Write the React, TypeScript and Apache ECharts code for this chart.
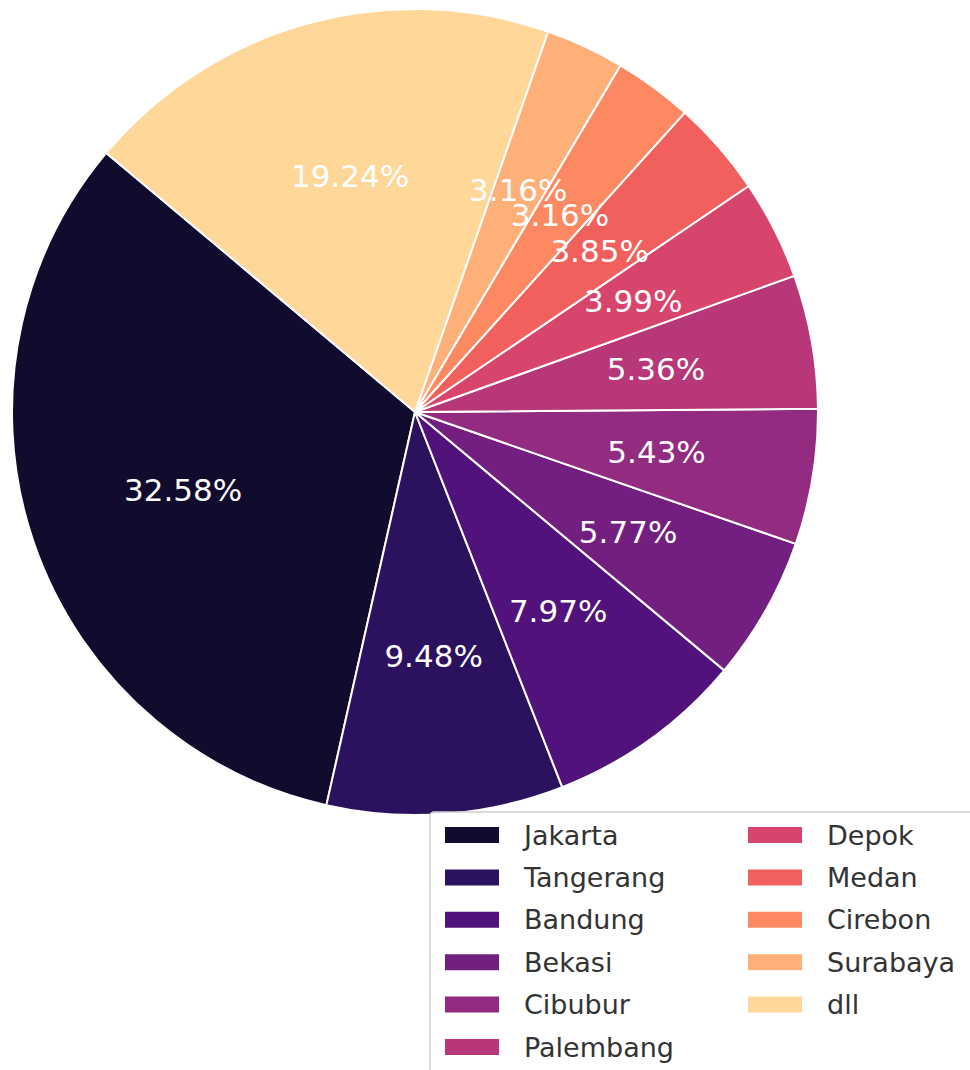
import React, { useEffect, useRef } from "react";
import * as echarts from "echarts";

const categories = ["Jakarta", "Tangerang", "Bandung", "Bekasi", "Cibubur", "Palembang", "Depok", "Medan", "Cirebon", "Surabaya", "dll"];
const values = [32.58, 9.48, 7.97, 5.77, 5.43, 5.36, 3.99, 3.85, 3.16, 3.16, 19.24];
const colors = ["#110b2e", "#2c115f", "#51127c", "#721f81", "#932b80", "#b73779", "#d8456c", "#f1605d", "#fc8961", "#feb078", "#fed799"];
const legendCol1 = categories.slice(0, 6);
const legendCol2 = categories.slice(6);

export default function App() {
  const ref = useRef<HTMLDivElement>(null);
  useEffect(() => {
    if (!ref.current) return;
    const chart = echarts.init(ref.current, null, { renderer: "svg" });
    const cx = 415, cy = 412, R = 403;
    const start = 140;
    const data = categories.map((n, i) => ({ name: n, value: values[i], itemStyle: { color: colors[i] } }));
    const legendBase = {
      orient: "vertical",
      icon: "rect",
      padding: 0,
      itemWidth: 56,
      itemHeight: 18,
      itemGap: 15.4,
      height: 248,
      selectedMode: false,
      textStyle: {
        fontFamily: "DejaVu Sans",
        fontSize: 27,
        lineHeight: 27,
        color: "#333333",
        padding: [0, 0, 0, 19],
      },
    };
    chart.setOption({
      animation: false,
      backgroundColor: "#ffffff",
      graphic: [
        {
          type: "rect",
          z: 10,
          shape: { x: 430, y: 812, width: 600, height: 320, r: 4 },
          style: { fill: "rgba(255,255,255,0.85)", stroke: "#d0d0d0", lineWidth: 1.5 },
        },
      ],
      legend: [
        { ...legendBase, left: 443, top: 821.5, data: legendCol1, z: 20 },
        { ...legendBase, left: 746, top: 821.5, data: legendCol2, z: 20 },
      ],
      series: [
        {
          type: "pie",
          center: [cx, cy],
          radius: [0, R],
          startAngle: start,
          clockwise: false,
          silent: true,
          label: { show: false },
          labelLine: { show: false },
          itemStyle: { borderColor: "#ffffff", borderWidth: 2 },
          data,
        },
        {
          type: "pie",
          center: [cx, cy],
          radius: [R * 0.2, R],
          startAngle: start,
          clockwise: false,
          silent: true,
          avoidLabelOverlap: false,
          labelLayout: { hideOverlap: false },
          legendHoverLink: false,
          itemStyle: { color: "rgba(0,0,0,0)", borderWidth: 0 },
          label: {
            show: true,
            position: "inside",
            formatter: (p: any) => values[p.dataIndex].toFixed(2) + "%",
            color: "#ffffff",
            fontFamily: "DejaVu Sans",
            fontSize: 31,
          },
          labelLine: { show: false },
          data: categories.map((n, i) => ({ name: n + " ", value: values[i] })),
        },
      ],
    });
    return () => chart.dispose();
  }, []);
  return <div ref={ref} style={{ position: "absolute", left: 0, top: 0, width: 970, height: 1070 }} />;
}
